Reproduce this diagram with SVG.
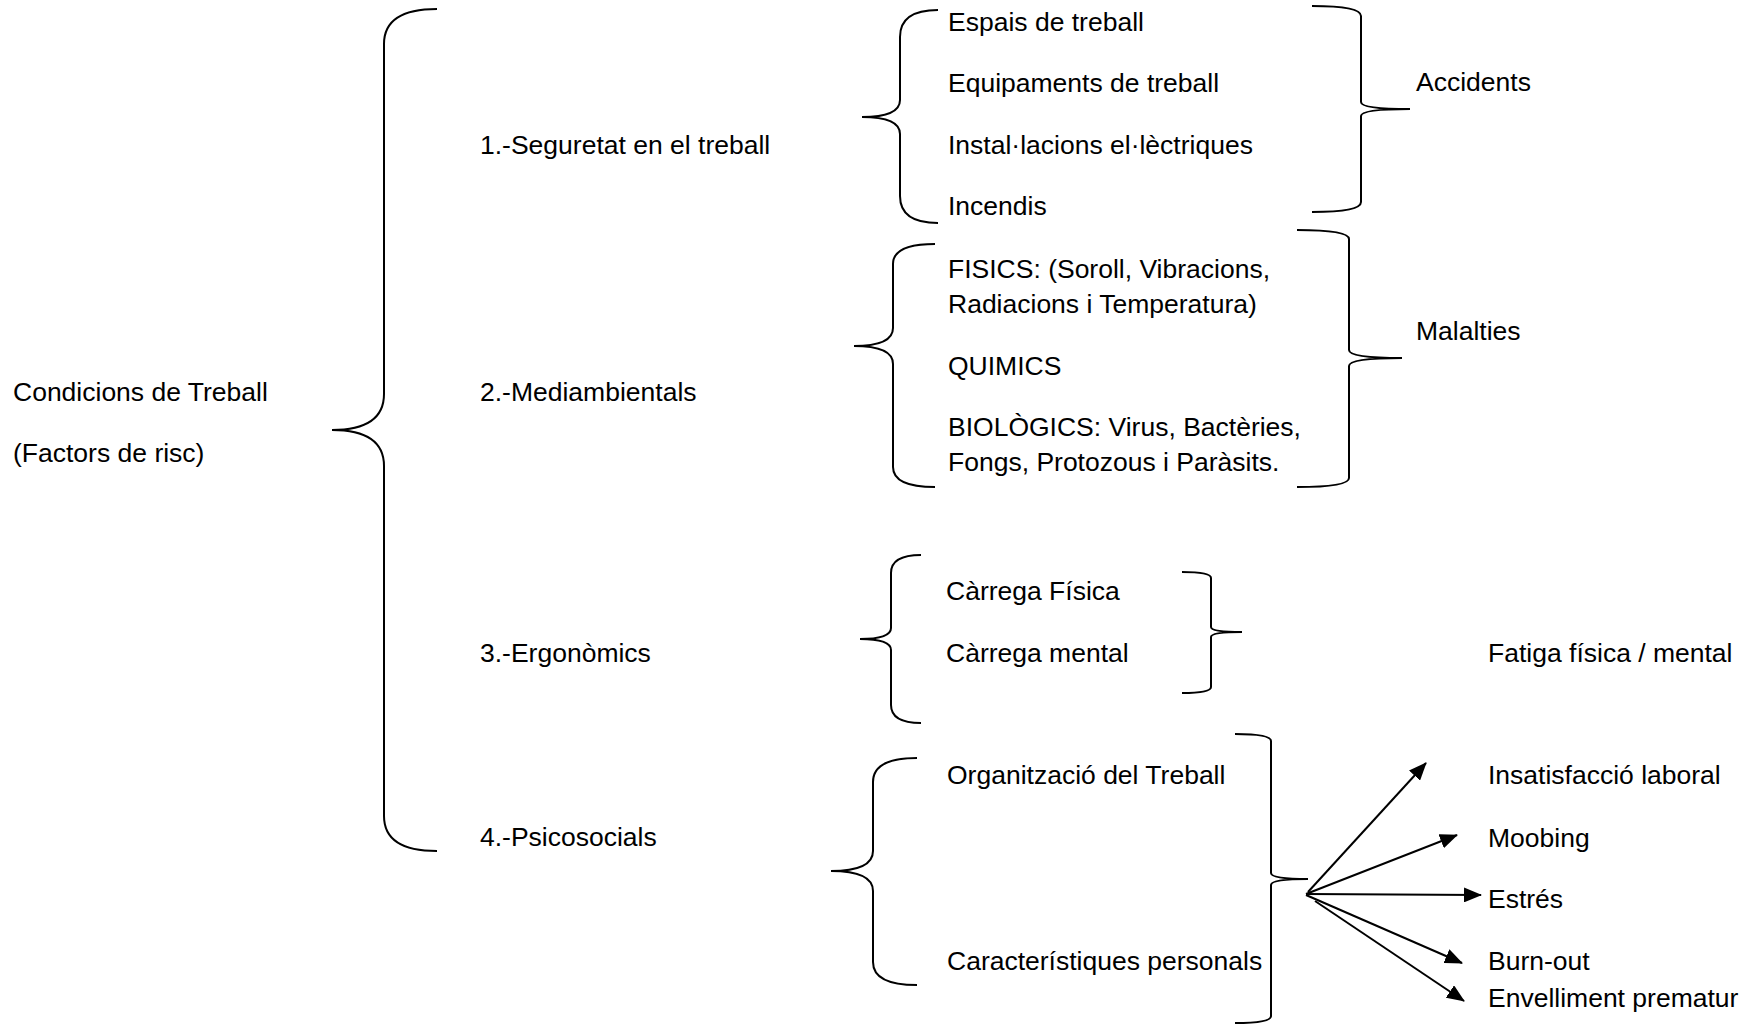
<svg xmlns="http://www.w3.org/2000/svg" width="1749" height="1025" viewBox="0 0 1749 1025">
<style>
text { font-family: "Liberation Sans", Arial, sans-serif; font-size: 26.5px; fill: #000; }
.br { fill: none; stroke: #000; stroke-width: 2; }
.ar { fill: none; stroke: #000; stroke-width: 2; marker-end: url(#ah); }
</style>
<defs>
<marker id="ah" viewBox="0 0 18 15" refX="17" refY="7.5" markerWidth="18" markerHeight="15" markerUnits="userSpaceOnUse" orient="auto">
<path d="M0,0 L18,7.5 L0,15 z" fill="#000"/>
</marker>
</defs>
<rect width="1749" height="1025" fill="#fff"/>

<g id="root">
<text x="13" y="401">Condicions de Treball</text>
<text x="13" y="462">(Factors de risc)</text>
</g>

<g id="cat1"><text x="480" y="154">1.-Seguretat en el treball</text></g>
<g id="cat2"><text x="480" y="401">2.-Mediambientals</text></g>
<g id="cat3"><text x="480" y="662">3.-Ergonòmics</text></g>
<g id="cat4"><text x="480" y="846">4.-Psicosocials</text></g>

<g id="items1">
<text x="948" y="31">Espais de treball</text>
<text x="948" y="92">Equipaments de treball</text>
<text x="948" y="154">Instal·lacions el·lèctriques</text>
<text x="948" y="215">Incendis</text>
</g>
<g id="res1"><text x="1416" y="91">Accidents</text></g>

<g id="items2">
<text x="948" y="278">FISICS: (Soroll, Vibracions,</text>
<text x="948" y="313">Radiacions i Temperatura)</text>
<text x="948" y="375">QUIMICS</text>
<text x="948" y="436">BIOLÒGICS: Virus, Bactèries,</text>
<text x="948" y="471">Fongs, Protozous i Paràsits.</text>
</g>
<g id="res2"><text x="1416" y="340">Malalties</text></g>

<g id="items3">
<text x="946" y="600">Càrrega Física</text>
<text x="946" y="662">Càrrega mental</text>
</g>
<g id="res3"><text x="1488" y="662">Fatiga física / mental</text></g>

<g id="items4">
<text x="947" y="784">Organització del Treball</text>
<text x="947" y="970">Característiques personals</text>
</g>

<g id="res4">
<text x="1488" y="784">Insatisfacció laboral</text>
<text x="1488" y="847">Moobing</text>
<text x="1488" y="908">Estrés</text>
<text x="1488" y="970">Burn-out</text>
<text x="1488" y="1007">Envelliment prematur</text>
</g>

<g id="connectors">
<path class="br" d="M437,9 Q384,9 384,44 L384,394 Q384,430 332,430 Q384,430 384,466 L384,816 Q384,851 437,851"/>
<path class="br" d="M938,10 Q900,10 900,37 L900,100 Q900,117 862,117 Q900,117 900,134 L900,196 Q900,223 938,223"/>
<path class="br" d="M1312,6 Q1361,6 1361,16 L1361,102 Q1361,109 1410,109 Q1361,109 1361,116 L1361,202 Q1361,212 1312,212"/>
<path class="br" d="M935,244 Q893,244 893,264 L893,328 Q893,346 854,346 Q893,346 893,364 L893,467 Q893,487 935,487"/>
<path class="br" d="M1297,230 Q1349,230 1349,239 L1349,350 Q1349,358 1402,358 Q1349,358 1349,366 L1349,478 Q1349,487 1297,487"/>
<path class="br" d="M921,555 Q891,555 891,573 L891,628 Q891,639 860,639 Q891,639 891,650 L891,705 Q891,723 921,723"/>
<path class="br" d="M1182,572 Q1211,572 1211,578 L1211,627 Q1211,632 1242,632 Q1211,632 1211,637 L1211,687 Q1211,693 1182,693"/>
<path class="br" d="M917,758 Q873,758 873,782 L873,851 Q873,871 831,871 Q873,871 873,891 L873,962 Q873,985 917,985"/>
<path class="br" d="M1235,734 Q1271,734 1271,741 L1271,873 Q1271,879 1308,879 Q1271,879 1271,885 L1271,1016 Q1271,1023 1235,1023"/>
<line class="ar" x1="1308" y1="892" x2="1426" y2="763"/>
<line class="ar" x1="1306" y1="894" x2="1457" y2="835"/>
<line class="ar" x1="1306" y1="894" x2="1481" y2="895"/>
<line class="ar" x1="1306" y1="895" x2="1462" y2="963"/>
<line class="ar" x1="1315" y1="901" x2="1464" y2="1001"/>
</g>
</svg>
